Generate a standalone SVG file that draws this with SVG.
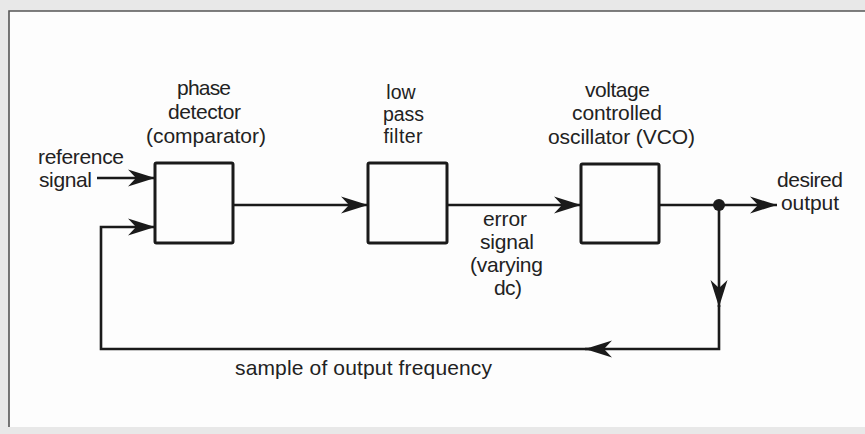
<svg xmlns="http://www.w3.org/2000/svg" width="865" height="434" viewBox="0 0 865 434">
<style>
.lbl{font-family:"Liberation Sans",Arial,sans-serif;font-size:21px;fill:#222;text-anchor:middle}
.sm{font-size:19.5px}
.st{text-anchor:start}
.box{fill:none;stroke:#1a1a1a;stroke-width:3}
.wire{fill:none;stroke:#1a1a1a;stroke-width:2.6;stroke-linejoin:miter}
</style>
<defs>
<marker id="ah" markerUnits="userSpaceOnUse" markerWidth="30" markerHeight="20" viewBox="-28 -10 30 20" refX="0" refY="0" orient="auto">
<path d="M0,0 L-27,-8.5 L-19,0 L-27,8.5 Z" fill="#1a1a1a"/>
</marker>
</defs>
<rect x="0" y="0" width="865" height="434" fill="#e8e8e8"/>
<rect x="9" y="11" width="856" height="416" fill="#fdfdfd"/>
<path d="M9,427 V11 H865" fill="none" stroke="#555" stroke-width="1.6"/>

<g id="phase-detector">
<rect class="box" x="155" y="163" width="78" height="80" rx="1.5"/>
<text class="lbl" x="204" y="95" textLength="54">phase</text>
<text class="lbl" x="204.5" y="119" textLength="73">detector</text>
<text class="lbl" x="206" y="143" textLength="120">(comparator)</text>
</g>
<g id="low-pass-filter">
<rect class="box" x="368" y="163" width="79" height="80" rx="1.5"/>
<text class="lbl sm" x="401" y="99">low</text>
<text class="lbl sm" x="403.5" y="121">pass</text>
<text class="lbl sm" x="403" y="143" textLength="39">filter</text>
</g>
<g id="vco">
<rect class="box" x="581" y="164" width="78" height="79" rx="1.5"/>
<text class="lbl" x="617.5" y="97" textLength="65">voltage</text>
<text class="lbl" x="617" y="120" textLength="90">controlled</text>
<text class="lbl" x="621.5" y="144" textLength="147">oscillator (VCO)</text>
</g>
<g id="reference-signal">
<text class="lbl st" x="38" y="164" textLength="86">reference</text>
<text class="lbl st" x="39" y="187" textLength="53">signal</text>
</g>
<g id="desired-output">
<text class="lbl" x="810" y="187" textLength="66">desired</text>
<text class="lbl" x="810" y="210" textLength="58">output</text>
</g>
<g id="error-signal">
<text class="lbl" x="505" y="226" textLength="44">error</text>
<text class="lbl" x="507" y="249" textLength="54">signal</text>
<text class="lbl" x="506.5" y="272" textLength="73">(varying</text>
<text class="lbl" x="508" y="295" textLength="28">dc)</text>
</g>
<g id="sample-label">
<text class="lbl" x="363.5" y="375" textLength="257">sample of output frequency</text>
</g>

<g id="connectors">
<path class="wire" d="M97,178 H155" marker-end="url(#ah)"/>
<path class="wire" d="M233,205 H368" marker-end="url(#ah)"/>
<path class="wire" d="M447,205 H581" marker-end="url(#ah)"/>
<path class="wire" d="M659,205 H777" marker-end="url(#ah)"/>
<path class="wire" d="M719,205 V307" marker-end="url(#ah)"/>
<path class="wire" d="M719,305 V349 H585" marker-end="url(#ah)"/>
<path class="wire" d="M590,349 H101 V227 H155" marker-end="url(#ah)"/>
<circle cx="719" cy="205" r="6" fill="#1a1a1a"/>
</g>
</svg>
